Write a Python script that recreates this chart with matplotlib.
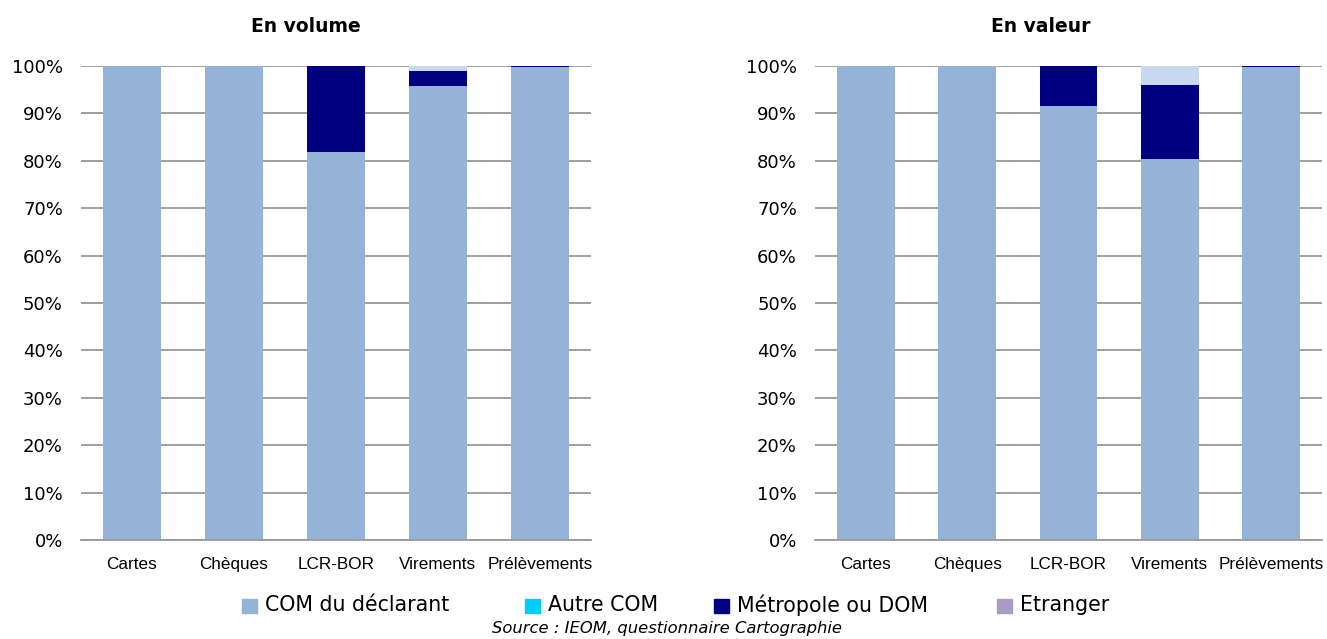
import numpy as np
import matplotlib
matplotlib.use('Agg')
import matplotlib.pyplot as plt
from matplotlib.patches import Rectangle
from matplotlib.ticker import PercentFormatter

# %% Data (shares in %)
categories = ['Cartes', 'Chèques', 'LCR-BOR', 'Virements', 'Prélèvements']

# En volume
vol_com = [100.0, 99.9, 81.8, 95.7, 99.7]
vol_autre = [0.0, 0.0, 0.0, 0.0, 0.0]
vol_metro = [0.0, 0.1, 18.2, 3.3, 0.3]
vol_etranger = [0.0, 0.0, 0.0, 0.0, 0.0]
vol_nv = [0.0, 0.0, 0.0, 1.0, 0.0]

# En valeur
val_com = [100.0, 100.0, 91.6, 80.3, 99.7]
val_autre = [0.0, 0.0, 0.0, 0.0, 0.0]
val_metro = [0.0, 0.0, 8.4, 15.7, 0.3]
val_etranger = [0.0, 0.0, 0.0, 0.0, 0.0]
val_nv = [0.0, 0.0, 0.0, 4.0, 0.0]

series_names = ['COM du déclarant', 'Autre COM', 'Métropole ou DOM', 'Etranger']
colors = ['#95B3D7', '#00CCFF', '#000080', '#A99BC6']
nv_color = '#C6D9F1'

# %% Plotting
plt.rcParams['font.family'] = ['DejaVu Sans']
W, H = 1327, 639
fig = plt.figure(figsize=(W / 100, H / 100), dpi=100)

ax_vol = fig.add_axes([0.0610, 0.1549, 0.3843, 0.7418])
ax_val = fig.add_axes([0.6142, 0.1549, 0.3821, 0.7418])

panels = [
    (ax_vol, 'En volume', [vol_com, vol_autre, vol_metro, vol_etranger, vol_nv], 306),
    (ax_val, 'En valeur', [val_com, val_autre, val_metro, val_etranger, val_nv], 1041),
]

x = np.arange(len(categories))
for ax, title, stack, tx in panels:
    bottom = np.zeros(len(categories))
    for vals, col in zip(stack, colors + [nv_color]):
        ax.bar(x, vals, width=0.57, bottom=bottom, color=col, edgecolor='none', zorder=2)
        bottom += np.array(vals)

    ax.set_xlim(-0.5, len(categories) - 0.5)
    ax.set_ylim(0, 100)
    ax.set_yticks(np.arange(0, 101, 10))
    ax.yaxis.set_major_formatter(PercentFormatter(decimals=0))
    ax.grid(axis='y', color='#999999', linewidth=1.3)
    ax.set_axisbelow(True)
    for side in ['top', 'right', 'left']:
        ax.spines[side].set_visible(False)
    ax.spines['bottom'].set_color('#999999')
    ax.spines['bottom'].set_linewidth(1.3)
    ax.tick_params(axis='y', length=0, pad=13, labelsize=13)
    ax.tick_params(axis='x', length=0, pad=12)
    ax.set_xticks(x)
    ax.set_xticklabels(categories, family='Liberation Sans', fontsize=12.3)

    fig.text(tx / W, 1 - 26 / H, title, ha='center', va='center',
             fontsize=13.5, fontweight='bold')

# legend drawn by hand so the item spacing can be set freely
items_x = [242, 525, 714, 997]
for name, col, px in zip(series_names, colors, items_x):
    fig.patches.append(Rectangle((px / W, 1 - 613 / H), 15 / W, 14 / H,
                                 transform=fig.transFigure, color=col))
    fig.text((px + 23) / W, 1 - 605 / H, name, ha='left', va='center', fontsize=14.8)

fig.text(667 / W, 1 - 628 / H, 'Source : IEOM, questionnaire Cartographie',
         ha='center', va='center', fontsize=11.8, style='italic')

fig.savefig('out.png', dpi=100)
